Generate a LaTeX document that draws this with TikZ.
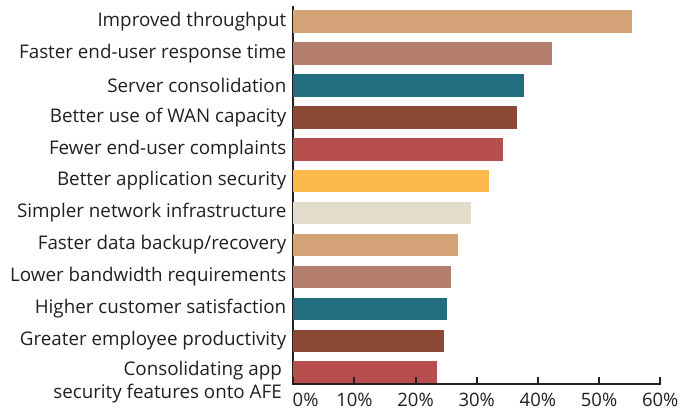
\documentclass[tikz,border=0pt]{standalone}
\usepackage{fontspec}
\setmainfont{Open Sans}
\definecolor{ctan}{HTML}{D4A478}
\definecolor{crose}{HTML}{B47F6C}
\definecolor{cteal}{HTML}{216E80}
\definecolor{cbrown}{HTML}{8B4A36}
\definecolor{cred}{HTML}{B84D4D}
\definecolor{cyel}{HTML}{FCB94D}
\definecolor{cbeige}{HTML}{E2DCCB}
\definecolor{ctext}{HTML}{231F20}
\begin{document}
\begin{tikzpicture}[x=1pt,y=-1pt,
  lbl/.style={anchor=east,font=\fontsize{18.8}{19}\selectfont,text=ctext,inner sep=0pt,align=right},
  tlbl/.style={anchor=north,font=\fontsize{18.5}{19}\selectfont,text=ctext,inner sep=0pt},
  axisline/.style={draw=ctext,line width=2pt}]
\useasboundingbox (0,0) rectangle (687,413);
% vertical axis
\draw[axisline] (293.3,6) -- (293.3,383.5);
% bars
\def\bh{22.7}
\foreach \i/\e/\c in {0/631.7/ctan,1/552/crose,2/524/cteal,3/517/cbrown,4/503/cred,5/489/cyel,6/471/cbeige,7/458/ctan,8/451/crose,9/447/cteal,10/444/cbrown,11/437/cred}{
  \fill[\c] (292.5,{10+31.95*\i}) rectangle (\e,{10+31.95*\i+\bh});
}
% horizontal axis
\draw[axisline] (292.3,383.5) -- (661,383.5);
\foreach \k in {0,...,6}{
  \draw[axisline] ({293.3+61.15*\k},377) -- ({293.3+61.15*\k},383.5);
}
\node[tlbl,anchor=north west] (t0) at (292.5,393) {0\%};
\foreach \k in {1,...,6}{
  \node[tlbl] (t\k) at ({293.3+61.15*\k},393) {\k0\%};
}
% labels
\foreach \i/\t in {0/{Improved throughput},1/{Faster end-user response time},2/{Server consolidation},3/{Better use of WAN capacity},4/{Fewer end-user complaints},5/{Better application security},6/{Simpler network infrastructure},7/{Faster data backup/recovery},8/{Lower bandwidth requirements},9/{Higher customer satisfaction},10/{Greater employee productivity}}{
  \node[lbl] (l\i) at (286.5,{10+31.95*\i+\bh/2}) {\t};
}
\node[lbl,font=\fontsize{18.8}{23}\selectfont] (l11) at (282,382) {Consolidating app\\security features onto AFE};
\end{tikzpicture}
\end{document}
